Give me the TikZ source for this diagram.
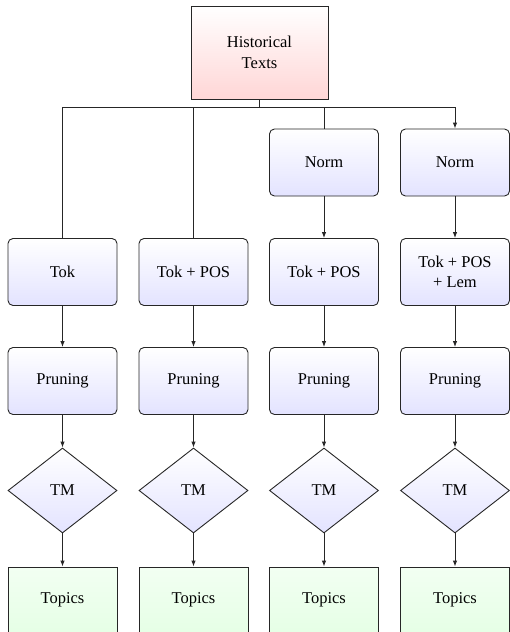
\documentclass[tikz,border=0pt]{standalone}
\usepackage{fontspec}
\setmainfont{Liberation Serif}
\usetikzlibrary{shapes.geometric,arrows.meta}
\tikzset{
  nodebase/.style={draw=black!85, line width=0.9pt, align=center, inner sep=2pt},
  procbox/.style={nodebase, rounded corners=5pt, minimum width=109pt, minimum height=67pt, top color=white, bottom color=blue!11},
  histbox/.style={nodebase, minimum width=137pt, minimum height=93pt, top color=white, bottom color=red!16},
  topicbox/.style={nodebase, minimum width=109pt, minimum height=66pt, top color=green!5, bottom color=green!10},
  tmbox/.style={nodebase, diamond, minimum width=109pt, minimum height=85pt, top color=white, bottom color=blue!11},
  conn/.style={draw=black!85, line width=0.9pt},
  arr/.style={conn, -{Latex[length=6pt,width=4.5pt]}}
}
\begin{document}
\begin{tikzpicture}[x=1pt,y=-1pt,font=\fontsize{16.5}{20.5}\selectfont]
\useasboundingbox (0,0) rectangle (510,632);
\node[histbox] (hist) at (259.5,52.5) {Historical\\Texts};
\coordinate (bus) at (259.5,107.5);
% column nodes
\node[procbox] (norm3) at (324,162.5) {Norm};
\node[procbox] (norm4) at (455,162.5) {Norm};
\node[procbox] (tok1) at (62.5,272) {Tok};
\node[procbox] (tok2) at (193.5,272) {Tok + POS};
\node[procbox] (tok3) at (324,272) {Tok + POS};
\node[procbox] (tok4) at (455,272) {Tok + POS\\+ Lem};
\foreach \i/\x in {1/62.5,2/193.5,3/324,4/455}{
  \node[procbox] (prun\i) at (\x,381) {Pruning};
  \node[tmbox] (tm\i) at (\x,490.5) {TM};
  \node[topicbox] (top\i) at (\x,600) {Topics};
}
% connectors
\draw[conn] (hist.south) -- (bus);
\draw[conn] (bus) -| (tok1.north);
\draw[conn] (bus) -| (tok2.north);
\draw[conn] (bus) -| (norm3.north);
\draw[arr] (bus) -| (norm4.north);
\draw[arr] (norm3) -- (tok3);
\draw[arr] (norm4) -- (tok4);
\foreach \i in {1,2,3,4}{
  \draw[arr] (tok\i) -- (prun\i);
  \draw[arr] (prun\i) -- (tm\i);
  \draw[arr] (tm\i) -- (top\i);
}
\end{tikzpicture}
\end{document}
